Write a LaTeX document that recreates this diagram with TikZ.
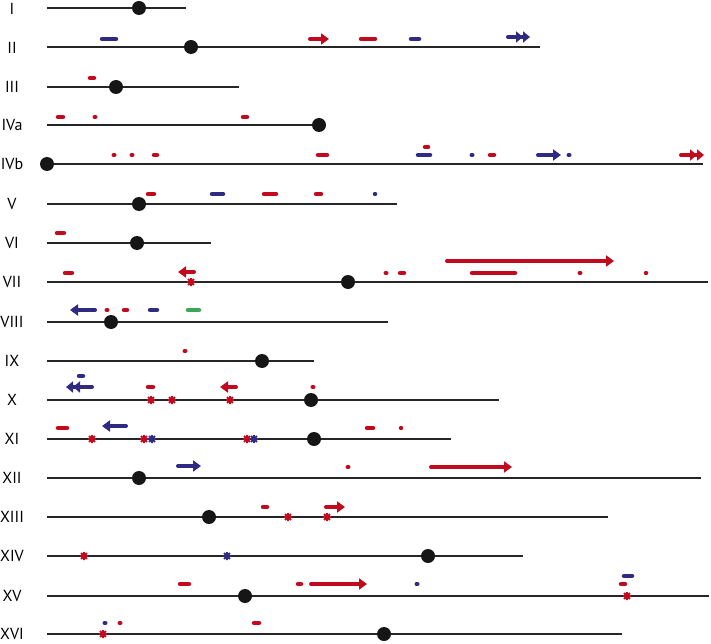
\documentclass[tikz,border=0pt]{standalone}
\usepackage{fontspec}
\setmainfont{PT Sans}
\usetikzlibrary{arrows.meta}
\definecolor{chrred}{HTML}{C20A1E}
\definecolor{chrblue}{HTML}{2F2B82}
\definecolor{chrgreen}{HTML}{3CA854}
\definecolor{cendark}{HTML}{161616}
\tikzset{mut/.pic={\draw[line width=1.8pt] (-4,0) -- (4,0) (0,-4) -- (0,4)
    (-2.9,-2.9) -- (2.9,2.9) (-2.9,2.9) -- (2.9,-2.9);}}

\begin{document}
\begin{tikzpicture}[x=1pt,y=-1pt]
    \tikzstyle{chrom}=[line width=1.4pt,black!85]
    \tikzstyle{centro}=[fill=cendark]
    \tikzstyle{seg}=[line width=4.5pt,line cap=round]
    \tikzstyle{dotm}=[line width=4pt,line cap=round]
    \tikzstyle{arr}=[line width=4pt,line cap=round,-{Triangle[length=8pt,width=11pt]}]
    \tikzstyle{darr}=[line width=4pt,line cap=round,-{Triangle[length=7pt,width=11pt]Triangle[length=7pt,width=11pt]}]
    \tikzstyle{lab}=[font=\fontsize{16}{18}\selectfont,inner sep=0pt]
    \useasboundingbox (0,0) rectangle (711,644);
    % Labels
    \node[lab] (chrI) at (12,9) {I};
    \node[lab] (chrII) at (12,48) {II};
    \node[lab] (chrIII) at (12,87) {III};
    \node[lab] (chrIVa) at (12,125) {IVa};
    \node[lab] (chrIVb) at (12,164) {IVb};
    \node[lab] (chrV) at (12,204) {V};
    \node[lab] (chrVI) at (12,243) {VI};
    \node[lab] (chrVII) at (12,282) {VII};
    \node[lab] (chrVIII) at (12,322) {VIII};
    \node[lab] (chrIX) at (12,361) {IX};
    \node[lab] (chrX) at (12,400) {X};
    \node[lab] (chrXI) at (12,439) {XI};
    \node[lab] (chrXII) at (12,478) {XII};
    \node[lab] (chrXIII) at (12,517) {XIII};
    \node[lab] (chrXIV) at (12,556) {XIV};
    \node[lab] (chrXV) at (12,596) {XV};
    \node[lab] (chrXVI) at (12,634) {XVI};
    % Chromosomes
    \draw[chrom] (47,8) -- (186,8);
    \draw[chrom] (47,47) -- (540,47);
    \draw[chrom] (47,87) -- (239,87);
    \draw[chrom] (47,125) -- (319,125);
    \draw[chrom] (47,164) -- (703,164);
    \draw[chrom] (47,204) -- (397,204);
    \draw[chrom] (47,243) -- (211,243);
    \draw[chrom] (47,282) -- (708,282);
    \draw[chrom] (47,322) -- (388,322);
    \draw[chrom] (47,361) -- (314,361);
    \draw[chrom] (47,400) -- (499,400);
    \draw[chrom] (47,439) -- (451,439);
    \draw[chrom] (47,478) -- (701,478);
    \draw[chrom] (47,517) -- (608,517);
    \draw[chrom] (47,556) -- (523,556);
    \draw[chrom] (47,596) -- (709,596);
    \draw[chrom] (47,634) -- (622,634);
    % Centromeres
    \fill[centro] (139,8) circle (7pt);
    \fill[centro] (191,47) circle (7pt);
    \fill[centro] (116,87) circle (7pt);
    \fill[centro] (319,125) circle (7pt);
    \fill[centro] (47,164) circle (7pt);
    \fill[centro] (139,204) circle (7pt);
    \fill[centro] (137,243) circle (7pt);
    \fill[centro] (348,282) circle (7pt);
    \fill[centro] (111,322) circle (7pt);
    \fill[centro] (262,361) circle (7pt);
    \fill[centro] (311,400) circle (7pt);
    \fill[centro] (314,439) circle (7pt);
    \fill[centro] (139,478) circle (7pt);
    \fill[centro] (209,517) circle (7pt);
    \fill[centro] (428,556) circle (7pt);
    \fill[centro] (245,596) circle (7pt);
    \fill[centro] (384,634) circle (7pt);
    % II
    \draw[seg,chrblue] (102,39) -- (116,39);
    \draw[arr,chrred] (310,39) -- (329,39);
    \draw[seg,chrred] (361,39) -- (375,39);
    \draw[seg,chrblue] (411,39) -- (419,39);
    \draw[darr,chrblue] (508,37) -- (530,37);
    % III
    \draw[seg,chrred] (90,78) -- (94,78);
    % IVa
    \draw[seg,chrred] (58,117) -- (63,117);
    \draw[dotm,chrred] (94.5,117) -- (95.5,117);
    \draw[seg,chrred] (243,117) -- (247,117);
    % IVb
    \draw[dotm,chrred] (113.5,155) -- (114.5,155);
    \draw[dotm,chrred] (131.5,155) -- (132.5,155);
    \draw[seg,chrred] (154,155) -- (157,155);
    \draw[seg,chrred] (318,155) -- (327,155);
    \draw[seg,chrred] (425,147) -- (428,147);
    \draw[seg,chrblue] (418,155) -- (430,155);
    \draw[dotm,chrblue] (471.5,155) -- (472.5,155);
    \draw[seg,chrred] (490,155) -- (494,155);
    \draw[arr,chrblue] (538,155) -- (561,155);
    \draw[dotm,chrblue] (568.5,155) -- (569.5,155);
    \draw[darr,chrred] (681,155) -- (704,155);
    % V
    \draw[seg,chrred] (148,194) -- (154,194);
    \draw[seg,chrblue] (212,194) -- (223,194);
    \draw[seg,chrred] (264,194) -- (276,194);
    \draw[seg,chrred] (316,194) -- (321,194);
    \draw[dotm,chrblue] (374.7,194) -- (375.3,194);
    % VI
    \draw[seg,chrred] (57,233) -- (64,233);
    % VII
    \draw[seg,chrred] (65,273) -- (72,273);
    \draw[arr,chrred] (194,272) -- (178,272);
    \pic[chrred] at (191,282) {mut};
    \draw[dotm,chrred] (385.5,273) -- (386.5,273);
    \draw[seg,chrred] (400,273) -- (404,273);
    \draw[seg,chrred] (472,273) -- (515,273);
    \draw[arr,chrred] (447,261) -- (614,261);
    \draw[dotm,chrred] (579.5,273) -- (580.5,273);
    \draw[dotm,chrred] (645.7,273) -- (646.3,273);
    % VIII
    \draw[arr,chrblue] (95,310) -- (70,310);
    \draw[dotm,chrred] (106.5,310) -- (107.5,310);
    \draw[seg,chrred] (124,310) -- (127,310);
    \draw[seg,chrblue] (150,310) -- (157,310);
    \draw[seg,chrgreen] (188,310) -- (199,310);
    % IX
    \draw[dotm,chrred] (184.5,351) -- (185.5,351);
    % X
    \draw[seg,chrblue] (79,376) -- (83,376);
    \draw[darr,chrblue] (92,387) -- (66,387);
    \draw[seg,chrred] (148,387) -- (153,387);
    \draw[arr,chrred] (236,387) -- (220,387);
    \draw[dotm,chrred] (312.5,387) -- (313.5,387);
    \pic[chrred] at (151,400) {mut};
    \pic[chrred] at (172,400) {mut};
    \pic[chrred] at (230,400) {mut};
    % XI
    \draw[seg,chrred] (58,428) -- (67,428);
    \draw[arr,chrblue] (126,426) -- (102,426);
    \draw[seg,chrred] (367,428) -- (373,428);
    \draw[dotm,chrred] (400.7,428) -- (401.3,428);
    \pic[chrred] at (92,439) {mut};
    \pic[chrred] at (144,439) {mut};
    \pic[chrblue] at (152,439) {mut};
    \pic[chrred] at (247,439) {mut};
    \pic[chrblue] at (254,439) {mut};
    % XII
    \draw[arr,chrblue] (178,466) -- (201,466);
    \draw[dotm,chrred] (347.5,467) -- (348.5,467);
    \draw[arr,chrred] (431,467) -- (512,467);
    % XIII
    \draw[seg,chrred] (263,507) -- (267,507);
    \draw[arr,chrred] (326,507) -- (345,507);
    \pic[chrred] at (288,517) {mut};
    \pic[chrred] at (327,517) {mut};
    % XIV
    \pic[chrred] at (84,556) {mut};
    \pic[chrblue] at (227,556) {mut};
    % XV
    \draw[seg,chrred] (180,584) -- (189,584);
    \draw[seg,chrred] (298,584) -- (301,584);
    \draw[arr,chrred] (311,584) -- (367,584);
    \draw[dotm,chrblue] (416.5,584) -- (417.5,584);
    \draw[seg,chrblue] (624,576) -- (632,576);
    \draw[seg,chrred] (621,584) -- (625,584);
    \pic[chrred] at (627,596) {mut};
    % XVI
    \draw[dotm,chrblue] (104.5,623) -- (105.5,623);
    \draw[dotm,chrred] (119.5,623) -- (120.5,623);
    \draw[seg,chrred] (254,623) -- (259,623);
    \pic[chrred] at (103,634) {mut};
\end{tikzpicture}
\end{document}
